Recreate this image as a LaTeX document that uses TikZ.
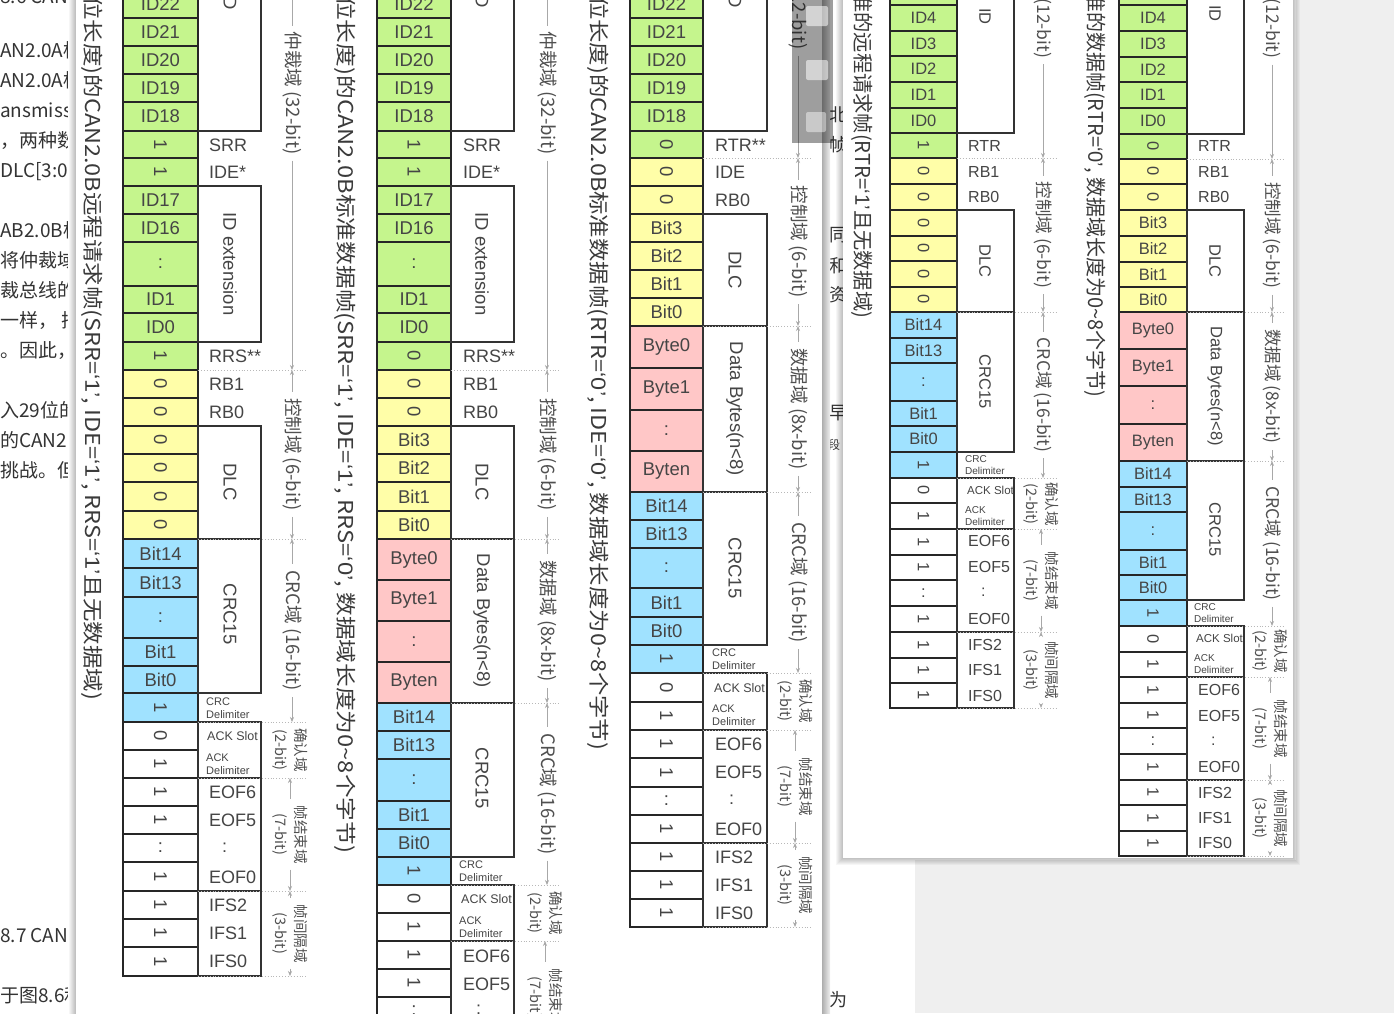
\documentclass[tikz,border=0pt]{standalone}
\usepackage{fontspec}
\usepackage{graphicx}
\setmainfont{Liberation Sans}
\newfontfamily\cjk{Noto Sans CJK SC}
\newfontfamily\latq{Liberation Sans}
\usetikzlibrary{arrows.meta}
\definecolor{cg}{HTML}{C5F58D}
\definecolor{cy}{HTML}{FFFEA8}
\definecolor{cp}{HTML}{FFC7C7}
\definecolor{cb}{HTML}{A0E2FF}
\definecolor{txt}{HTML}{454545}
\definecolor{anntx}{HTML}{505050}
\definecolor{annc}{HTML}{A8A8A8}
\definecolor{sepc}{HTML}{B8B8B8}
\definecolor{ttlc}{HTML}{3A3A3A}
\definecolor{pgc}{HTML}{333333}
\definecolor{bgr}{HTML}{EFEFEF}
\newcommand\q[1]{{\latq ‘#1’}}
\newcommand\fitw[2]{\resizebox{#1}{\height}{#2}}
\tikzset{
  x=1pt, y=-1pt,
  cellbox/.style={draw=black!85, line width=1.4pt},
  celltxt/.style={text=txt, inner sep=0pt},
  lbl/.style={text=txt, inner sep=0pt, anchor=west, font=\fontsize{18}{18}\selectfont},
  lbls/.style={text=txt, inner sep=0pt, anchor=west, font=\fontsize{16}{16}\selectfont},
  tiny/.style={text=txt, inner sep=0pt, anchor=west, align=left, font=\fontsize{11}{13}\selectfont},
  tinyb/.style={text=txt, inner sep=0pt, anchor=west, font=\fontsize{12.5}{13}\selectfont},
  tinys/.style={text=txt, inner sep=0pt, anchor=west, align=left, font=\fontsize{10}{12}\selectfont},
  tinysb/.style={text=txt, inner sep=0pt, anchor=west, font=\fontsize{11.5}{12}\selectfont},
  brk/.style={draw=black!80, line width=1.2pt},
  boxlbl/.style={text=txt, rotate=-90, inner sep=0pt, font=\fontsize{18.5}{18.5}\selectfont},
  boxlbls/.style={text=txt, rotate=-90, inner sep=0pt, font=\fontsize{16.5}{16.5}\selectfont},
  sepl/.style={draw=sepc, dotted, line width=0.9pt},
  annl/.style={draw=annc, line width=0.7pt},
  anntxt/.style={text=anntx, rotate=-90, inner xsep=6pt, inner ysep=0pt, align=center, font=\cjk\fontsize{18.5}{20}\selectfont},
  anntxts/.style={anntxt, font=\cjk\fontsize{17.5}{20}\selectfont},
  anntwo/.style={text=anntx, rotate=-90, inner xsep=6pt, inner ysep=0pt, align=center, font=\cjk\fontsize{14.5}{20}\selectfont},
  ttl/.style={text=ttlc, rotate=-90, inner sep=0pt, anchor=west, font=\cjk\fontsize{20.5}{20.5}\selectfont},
  pg/.style={text=pgc, inner sep=0pt, anchor=mid west, font=\cjk\fontsize{19}{19}\selectfont},
  bgch/.style={text=pgc, inner sep=0pt, font=\cjk\fontsize{18}{18}\selectfont},
}
\newcommand\cancol[4]{%
  \foreach \t/\b/\c/\s/\r [count=\i] in {#4} {
    \draw[cellbox, fill=\c] (#1,\t) rectangle (#2,\b);
    \node[celltxt, font=#3, rotate=\r] (c#1n\i) at ({(#1+#2)/2},{(\t+\b)/2}) {\s};
  }}
\newcommand\annot[6][anntxt]{%
  \node[#1] (#2) at (#3,{(#4+#5)/2}) {#6};
  \draw[annl, {Stealth[length=5pt,width=4pt]}-] (#3,#4) -- (#2.west);
  \draw[annl, -{Stealth[length=5pt,width=4pt]}] (#2.east) -- (#3,#5);
}
\newcommand\seps[3]{%
  \foreach \y in {#3} {\draw[sepl] (#1,\y) -- (#2,\y);}}
\begin{document}
\begin{tikzpicture}
\useasboundingbox (0,0) rectangle (1394,1013);
\clip (0,0) rectangle (1394,1013);
% background page
\fill[white] (0,0) rectangle (1394,1013);
\fill[bgr] (1296,0) rectangle (1394,1013);
\fill[bgr] (915,860) rectangle (1394,1013);
\foreach \y/\s [count=\i] in {1/8.6 CAN, 55/AN2.0A标, 85/AN2.0A标, 115/ansmissio, 145/{，两种数}, 175/DLC[3:0, 235/AB2.0B标, 265/将仲裁域, 295/裁总线的, 325/{一样，\ 把}, 355/{。因此，}, 415/入29位的, 445/的CAN2, 475/{挑战。但}, 940/8.7 CAN, 1000/于图8.6和}
  \node[pg] (pg\i) at (0,\y) {\s};
\foreach \y/\s [count=\i] in {115/北, 145/帧, 235/同, 266/和, 295/资, 413/早, 1000/为}
  \node[bgch] (bg\i) at (838,\y) {\s};
\node[bgch, font=\cjk\fontsize{12}{12}\selectfont] (bgd) at (834,445) {段};
% panel 1
\shade[left color=white, right color=black!28] (68,-5) rectangle (76,1020);
\shade[left color=black!32, right color=black!6] (822,-5) rectangle (830,1020);
\fill[white] (76,-5) rectangle (822,1020);
% ---------- column A ----------
\node[ttl] (tA) at (92,-4) {\fitw{704pt}{位长度)的CAN2.0B远程请求帧(SRR=\q{1}, IDE=\q{1}, RRS=\q{1}且无数据域)}};
\cancol{123}{198}{\fontsize{18.5}{18.5}\selectfont}{-10/18/cg/ID22/0, 18/46/cg/ID21/0, 46/74/cg/ID20/0, 74/102/cg/ID19/0, 102/131/cg/ID18/0, 131/158/cg/1/-90, 158/186/cg/1/-90, 186/214/cg/ID17/0, 214/242/cg/ID16/0, 242/286/cg/:/0, 286/313/cg/ID1/0, 313/342/cg/ID0/0, 342/370/cg/1/-90, 370/398/cy/0/-90, 398/426/cy/0/-90, 426/454/cy/0/-90, 454/482/cy/0/-90, 482/511/cy/0/-90, 511/539/cy/0/-90, 539/568/cb/Bit14/0, 568/597/cb/Bit13/0, 597/638/cb/:/0, 638/666/cb/Bit1/0, 666/693/cb/Bit0/0, 693/722/cb/1/-90, 722/750/white/0/-90, 750/778/white/1/-90, 778/806/white/1/-90, 806/834/white/1/-90, 834/862/white/:/0, 862/891/white/1/-90, 891/919/white/1/-90, 919/947/white/1/-90, 947/976/white/1/-90}
\draw[brk] (261,-20) -- (261,131) -- (198,131);
\foreach \a/\b in {186/342, 426/539, 539/693, 722/778, 778/891, 891/976} {\draw[brk] (198,\a) rectangle (261,\b);}
\node[boxlbl, anchor=east] (bA1) at (230,10) {ID};
\node[boxlbl] (bA2) at (230,264) {ID extension};
\node[boxlbl] (bA3) at (230,482) {DLC};
\node[boxlbl] (bA4) at (230,614) {CRC15};
\foreach \y/\s [count=\i] in {145/SRR, 172/IDE*, 356/RRS**, 384/RB1, 412/RB0, 792/EOF6, 820/EOF5, 877/EOF0, 905/IFS2, 933/IFS1, 961/IFS0}
  \node[lbl] (lA\i) at (209,\y) {\s};
\node[lbl] (lAc) at (222,848) {:};
\node[tiny] (lAd) at (206,708) {CRC\\Delimiter};
\node[tinyb] (lAs) at (207,736) {ACK Slot};
\node[tiny] (lAe) at (206,764) {ACK\\Delimiter};
\seps{198}{307}{370, 539, 722, 778, 891, 976}
\annot{aA1}{292}{-184}{370}{仲裁域 (32-bit)}
\annot{aA2}{292}{370}{539}{控制域 (6-bit)}
\annot{aA3}{292}{539}{722}{CRC域 (16-bit)}
\node[anntwo] (aA4) at (290,750) {确认域\\(2-bit)};
\annot[anntwo]{aA5}{290}{778}{891}{帧结束域\\(7-bit)}
\annot[anntwo]{aA6}{290}{891}{976}{帧间隔域\\(3-bit)}
% ---------- column B ----------
\node[ttl] (tB) at (345,-4) {\fitw{857pt}{位长度)的CAN2.0B标准数据帧(SRR=\q{1}, IDE=\q{1}, RRS=\q{0}, 数据域长度为0\textasciitilde 8个字节)}};
\cancol{377}{451}{\fontsize{18.5}{18.5}\selectfont}{-10/18/cg/ID22/0, 18/46/cg/ID21/0, 46/74/cg/ID20/0, 74/102/cg/ID19/0, 102/131/cg/ID18/0, 131/158/cg/1/-90, 158/186/cg/1/-90, 186/214/cg/ID17/0, 214/242/cg/ID16/0, 242/286/cg/:/0, 286/313/cg/ID1/0, 313/342/cg/ID0/0, 342/370/cg/0/-90, 370/398/cy/0/-90, 398/426/cy/0/-90, 426/454/cy/Bit3/0, 454/482/cy/Bit2/0, 482/511/cy/Bit1/0, 511/539/cy/Bit0/0, 539/580/cp/Byte0/0, 580/621/cp/Byte1/0, 621/662/cp/:/0, 662/703/cp/Byten/0, 703/731/cb/Bit14/0, 731/759/cb/Bit13/0, 759/801/cb/:/0, 801/829/cb/Bit1/0, 829/857/cb/Bit0/0, 857/885/cb/1/-90, 885/913/white/0/-90, 913/941/white/1/-90, 941/969/white/1/-90, 969/997/white/1/-90, 997/1025/white/:/0, 1025/1053/white/1/-90}
\draw[brk] (514,-20) -- (514,131) -- (451,131);
\foreach \a/\b in {186/342, 426/539, 539/703, 703/857, 885/941, 941/1060} {\draw[brk] (451,\a) rectangle (514,\b);}
\node[boxlbl, anchor=east] (bB1) at (482,8) {ID};
\node[boxlbl] (bB2) at (482,264) {ID extension};
\node[boxlbl] (bB3) at (482,482) {DLC};
\node[boxlbl] (bB4) at (482,621) {Data Bytes(n<8)};
\node[boxlbl] (bB5) at (482,778) {CRC15};
\foreach \y/\s [count=\i] in {145/SRR, 172/IDE*, 356/RRS**, 384/RB1, 412/RB0, 956/EOF6, 984/EOF5}
  \node[lbl] (lB\i) at (463,\y) {\s};
\node[lbl] (lBc) at (476,1010) {:};
\node[tiny] (lBd) at (459,871) {CRC\\Delimiter};
\node[tinyb] (lBs) at (461,899) {ACK Slot};
\node[tiny] (lBe) at (459,927) {ACK\\Delimiter};
\seps{451}{561}{370, 539, 703, 885, 941}
\annot{aB1}{547}{-184}{370}{仲裁域 (32-bit)}
\annot{aB2}{547}{370}{539}{控制域 (6-bit)}
\annot{aB3}{547}{539}{703}{数据域 (8x-bit)}
\annot{aB4}{547}{703}{885}{CRC域 (16-bit)}
\node[anntwo] (aB5) at (545,913) {确认域\\(2-bit)};
\annot[anntwo]{aB6}{545}{941}{1054}{帧结束域\\(7-bit)}
% ---------- column C ----------
\node[ttl] (tC) at (598,-4) {\fitw{754pt}{位长度)的CAN2.0B标准数据帧(RTR=\q{0}, IDE=\q{0}, 数据域长度为0\textasciitilde 8个字节)}};
\cancol{630}{703}{\fontsize{18.5}{18.5}\selectfont}{-10/18/cg/ID22/0, 18/46/cg/ID21/0, 46/74/cg/ID20/0, 74/102/cg/ID19/0, 102/131/cg/ID18/0, 131/158/cg/0/-90, 158/186/cy/0/-90, 186/214/cy/0/-90, 214/242/cy/Bit3/0, 242/270/cy/Bit2/0, 270/298/cy/Bit1/0, 298/326/cy/Bit0/0, 326/368/cp/Byte0/0, 368/410/cp/Byte1/0, 410/451/cp/:/0, 451/492/cp/Byten/0, 492/520/cb/Bit14/0, 520/548/cb/Bit13/0, 548/588/cb/:/0, 588/617/cb/Bit1/0, 617/645/cb/Bit0/0, 645/673/cb/1/-90, 673/702/white/0/-90, 702/730/white/1/-90, 730/758/white/1/-90, 758/787/white/1/-90, 787/815/white/:/0, 815/843/white/1/-90, 843/871/white/1/-90, 871/899/white/1/-90, 899/927/white/1/-90}
\draw[brk] (767,-20) -- (767,131) -- (703,131);
\foreach \a/\b in {214/326, 326/492, 492/645, 673/730, 730/843, 843/927} {\draw[brk] (703,\a) rectangle (767,\b);}
\node[boxlbl, anchor=east] (bC1) at (735,8) {ID};
\node[boxlbl] (bC2) at (735,270) {DLC};
\node[boxlbl] (bC3) at (735,409) {Data Bytes(n<8)};
\node[boxlbl] (bC4) at (735,568) {CRC15};
\foreach \y/\s [count=\i] in {145/RTR**, 172/IDE, 200/RB0, 744/EOF6, 772/EOF5, 829/EOF0, 857/IFS2, 885/IFS1, 913/IFS0}
  \node[lbl] (lC\i) at (715,\y) {\s};
\node[lbl] (lCc) at (729,800) {:};
\node[tiny] (lCd) at (712,659) {CRC\\Delimiter};
\node[tinyb] (lCs) at (714,688) {ACK Slot};
\node[tiny] (lCe) at (712,715) {ACK\\Delimiter};
\seps{703}{812}{158, 326, 492, 673, 730, 843, 927}
\annot{aC1}{798}{-182}{158}{仲裁域 (12-bit)}
\annot{aC2}{798}{158}{326}{控制域 (6-bit)}
\annot{aC3}{798}{326}{492}{数据域 (8x-bit)}
\annot{aC4}{798}{492}{673}{CRC域 (16-bit)}
\node[anntwo] (aC5) at (795,701) {确认域\\(2-bit)};
\annot[anntwo]{aC6}{795}{730}{843}{帧结束域\\(7-bit)}
\annot[anntwo]{aC7}{795}{843}{927}{帧间隔域\\(3-bit)}
% toolbar overlay
\fill[black, opacity=0.38] (792,-5) rectangle (833,143);
\fill[white, opacity=0.55, rounded corners=2pt] (806,6) rectangle (828,26);
\fill[white, opacity=0.55, rounded corners=2pt] (806,60) rectangle (828,80);
\fill[white, opacity=0.45, rounded corners=2pt] (806,112) rectangle (826,132);
% panel 2
\foreach \k in {1,...,7} {\fill[black, opacity=0.035] ({843-\k},-5) rectangle ({1293+\k},{858+\k});}
\fill[white] (843,-5) rectangle (1293,858);
% ---------- column D ----------
\node[ttl] (tD) at (862,-8) {\fitw{326pt}{准的远程请求帧(RTR=\q{1}且无数据域)}};
\cancol{890}{957}{\fontsize{16.5}{16.5}\selectfont}{-21/5/cg/ID5/0, 5/31/cg/ID4/0, 31/56/cg/ID3/0, 56/82/cg/ID2/0, 82/108/cg/ID1/0, 108/133/cg/ID0/0, 133/158/cg/1/-90, 158/184/cy/0/-90, 184/210/cy/0/-90, 210/236/cy/0/-90, 236/261/cy/0/-90, 261/287/cy/0/-90, 287/312/cy/0/-90, 312/338/cb/Bit14/0, 338/363/cb/Bit13/0, 363/401/cb/:/0, 401/426/cb/Bit1/0, 426/452/cb/Bit0/0, 452/478/cb/1/-90, 478/503/white/0/-90, 503/529/white/1/-90, 529/555/white/1/-90, 555/580/white/1/-90, 580/606/white/:/0, 606/632/white/1/-90, 632/658/white/1/-90, 658/683/white/1/-90, 683/708/white/1/-90}
\draw[brk] (1014,-20) -- (1014,133) -- (957,133);
\foreach \a/\b in {210/312, 312/452, 478/529, 529/632, 632/708} {\draw[brk] (957,\a) rectangle (1014,\b);}
\node[boxlbls, anchor=east] (bD1) at (985,25) {ID};
\node[boxlbls] (bD2) at (985,261) {DLC};
\node[boxlbls] (bD3) at (985,382) {CRC15};
\foreach \y/\s [count=\i] in {146/RTR, 172/RB1, 197/RB0, 541/EOF6, 567/EOF5, 619/EOF0, 645/IFS2, 670/IFS1, 696/IFS0}
  \node[lbls] (lD\i) at (968,\y) {\s};
\node[lbls] (lDc) at (981,592) {:};
\node[tinys] (lDd) at (965,465) {CRC\\Delimiter};
\node[tinysb] (lDs) at (967,490) {ACK Slot};
\node[tinys] (lDe) at (965,516) {ACK\\Delimiter};
\seps{957}{1057}{158, 312, 478, 529, 632, 708}
\annot[anntxts]{aD1}{1043}{-158}{158}{仲裁域 (12-bit)}
\annot[anntxts]{aD2}{1043}{158}{312}{控制域 (6-bit)}
\annot[anntxts]{aD3}{1043}{312}{478}{CRC域 (16-bit)}
\node[anntwo] (aD4) at (1041,504) {确认域\\(2-bit)};
\annot[anntwo]{aD5}{1041}{529}{632}{帧结束域\\(7-bit)}
\annot[anntwo]{aD6}{1041}{632}{708}{帧间隔域\\(3-bit)}
% ---------- column E ----------
\node[ttl] (tE) at (1095,-8) {\fitw{405pt}{准的数据帧(RTR=\q{0}, 数据域长度为0\textasciitilde 8个字节)}};
\cancol{1119}{1187}{\fontsize{16.5}{16.5}\selectfont}{-21/5/cg/ID5/0, 5/31/cg/ID4/0, 31/57/cg/ID3/0, 57/82/cg/ID2/0, 82/108/cg/ID1/0, 108/134/cg/ID0/0, 134/159/cg/0/-90, 159/184/cy/0/-90, 184/210/cy/0/-90, 210/236/cy/Bit3/0, 236/262/cy/Bit2/0, 262/287/cy/Bit1/0, 287/312/cy/Bit0/0, 312/349/cp/Byte0/0, 349/386/cp/Byte1/0, 386/424/cp/:/0, 424/461/cp/Byten/0, 461/487/cb/Bit14/0, 487/512/cb/Bit13/0, 512/550/cb/:/0, 550/575/cb/Bit1/0, 575/600/cb/Bit0/0, 600/626/cb/1/-90, 626/652/white/0/-90, 652/677/white/1/-90, 677/703/white/1/-90, 703/728/white/1/-90, 728/754/white/:/0, 754/780/white/1/-90, 780/805/white/1/-90, 805/831/white/1/-90, 831/856/white/1/-90}
\draw[brk] (1244,-20) -- (1244,134) -- (1187,134);
\foreach \a/\b in {210/312, 312/461, 461/600, 626/677, 677/780, 780/856} {\draw[brk] (1187,\a) rectangle (1244,\b);}
\node[boxlbls, anchor=east] (bE1) at (1215,22) {ID};
\node[boxlbls] (bE2) at (1215,261) {DLC};
\node[boxlbls] (bE3) at (1215,386) {Data Bytes(n<8)};
\node[boxlbls] (bE4) at (1215,530) {CRC15};
\foreach \y/\s [count=\i] in {146/RTR, 172/RB1, 197/RB0, 690/EOF6, 716/EOF5, 767/EOF0, 793/IFS2, 818/IFS1, 843/IFS0}
  \node[lbls] (lE\i) at (1198,\y) {\s};
\node[lbls] (lEc) at (1211,741) {:};
\node[tinys] (lEd) at (1194,613) {CRC\\Delimiter};
\node[tinysb] (lEs) at (1196,638) {ACK Slot};
\node[tinys] (lEe) at (1194,664) {ACK\\Delimiter};
\seps{1187}{1285}{159, 312, 461, 626, 677, 780, 856}
\annot[anntxts]{aE1}{1272}{-158}{159}{仲裁域 (12-bit)}
\annot[anntxts]{aE2}{1272}{159}{312}{控制域 (6-bit)}
\annot[anntxts]{aE3}{1272}{312}{461}{数据域 (8x-bit)}
\annot[anntxts]{aE4}{1272}{461}{626}{CRC域 (16-bit)}
\node[anntwo] (aE5) at (1270,651) {确认域\\(2-bit)};
\annot[anntwo]{aE6}{1270}{677}{780}{帧结束域\\(7-bit)}
\annot[anntwo]{aE7}{1270}{780}{856}{帧间隔域\\(3-bit)}
\end{tikzpicture}
\end{document}
